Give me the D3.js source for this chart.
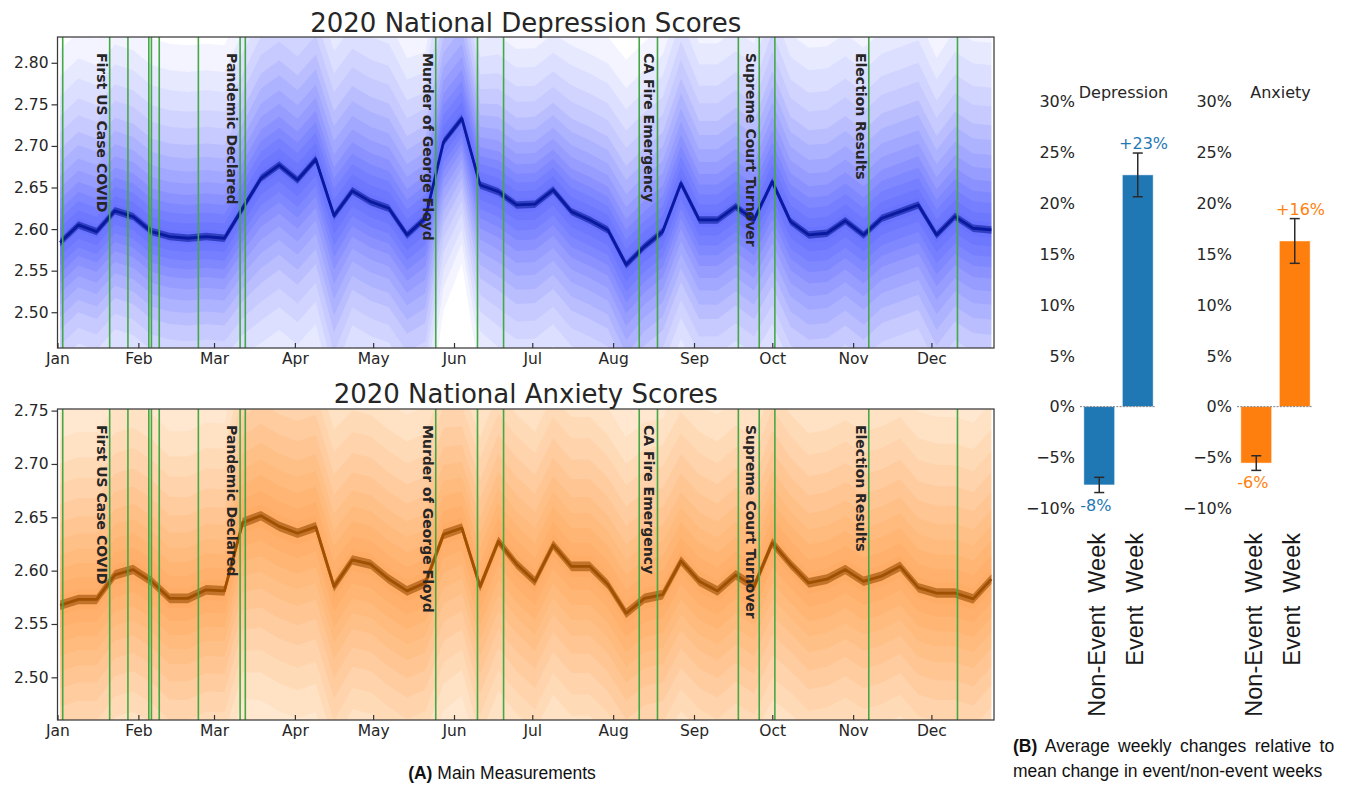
<!DOCTYPE html>
<html>
<head>
<meta charset="utf-8">
<script src="https://cdn.jsdelivr.net/npm/d3@7"></script>
<style>
  body { margin: 0; background: #fff; }
  svg { display: block; }
</style>
</head>
<body>
<svg id="fig" width="1346" height="785"></svg>
<script>
// ---------- data ----------
// weekly national means (52 weeks, starting Thursday 2 Jan 2020)
const firstWeek = "2020-01-02";
const weekCount = 52;

const depressionMean = [2.584, 2.605, 2.597, 2.622, 2.615, 2.597, 2.591, 2.589, 2.591, 2.589,
  2.625, 2.661, 2.677, 2.659, 2.684, 2.616, 2.646, 2.633, 2.625, 2.593,
  2.613, 2.705, 2.733, 2.653, 2.645, 2.629, 2.630, 2.647, 2.621, 2.611,
  2.599, 2.557, 2.579, 2.597, 2.655, 2.611, 2.611, 2.627, 2.611, 2.657,
  2.609, 2.593, 2.595, 2.610, 2.593, 2.613, 2.621, 2.629, 2.593, 2.615,
  2.601, 2.599];

const anxietyMean = [2.5675, 2.573, 2.573, 2.596, 2.601, 2.590, 2.574, 2.574, 2.582, 2.581,
  2.645, 2.6515, 2.6415, 2.635, 2.641, 2.585, 2.610, 2.606, 2.592, 2.581,
  2.5885, 2.634, 2.640, 2.585, 2.6275, 2.606, 2.590, 2.624, 2.604, 2.604,
  2.587, 2.560, 2.574, 2.5775, 2.609, 2.590, 2.581, 2.596, 2.585, 2.626,
  2.606, 2.5885, 2.592, 2.601, 2.590, 2.595, 2.604, 2.584, 2.579, 2.579,
  2.5735, 2.592];

// spread of the county-level lines below / above the mean, per week
const depressionSpreadLow = [.075, .075, .075, .075, .075, .075, .075, .075, .075, .075,
  .080, .090, .090, .090, .090, .100, .085, .085, .085, .085,
  .090, .070, .060, .080, .085, .085, .085, .085, .085, .085,
  .085, .090, .085, .085, .085, .085, .085, .085, .085, .090,
  .090, .090, .090, .090, .090, .090, .090, .090, .095, .090,
  .090, .090];
const depressionSpreadHigh = [.080, .080, .080, .080, .080, .080, .080, .080, .080, .080,
  .085, .090, .090, .090, .090, .090, .090, .090, .090, .085,
  .080, .090, .090, .070, .075, .075, .075, .075, .080, .080,
  .080, .085, .085, .085, .090, .085, .085, .085, .085, .095,
  .090, .090, .090, .090, .090, .090, .090, .090, .085, .090,
  .090, .090];
const anxietySpread = [.095, .095, .095, .095, .095, .095, .095, .095, .095, .095,
  .100, .105, .105, .105, .105, .105, .100, .100, .100, .100,
  .100, .100, .095, .100, .100, .100, .100, .100, .100, .100,
  .100, .100, .100, .100, .100, .100, .100, .100, .100, .105,
  .100, .100, .100, .100, .100, .100, .100, .100, .100, .100,
  .100, .100];

// half-width of the confidence band around each mean
const confidenceHalfWidth = 0.0045;

// event weeks
const eventDates = ["2020-01-03", "2020-01-21", "2020-01-28", "2020-02-05", "2020-02-06",
  "2020-02-09", "2020-02-24", "2020-03-11", "2020-03-13", "2020-05-25", "2020-06-10",
  "2020-06-20", "2020-08-11", "2020-08-18", "2020-09-18", "2020-09-26", "2020-10-02",
  "2020-11-07", "2020-12-11"];
const namedEventDates = ["2020-01-21", "2020-03-11", "2020-05-25", "2020-08-18", "2020-09-26", "2020-11-07"];
const namedEventLabels = ["First US Case COVID", "Pandemic Declared", "Murder of George Floyd",
  "CA Fire Emergency", "Supreme Court Turnover", "Election Results"];

const depressionTicks = [2.50, 2.55, 2.60, 2.65, 2.70, 2.75, 2.80];
const anxietyTicks = [2.50, 2.55, 2.60, 2.65, 2.70, 2.75];

// panel B: change relative to mean weekly change (%)
const weekTypes = ["Non-Event  Week", "Event  Week"];
const depressionChange = [-7.7, 22.8];
const depressionError = [0.75, 2.15];
const anxietyChange = [-5.55, 16.3];
const anxietyError = [0.72, 2.2];
const percentTicks = [-10, -5, 0, 5, 10, 15, 20, 25, 30];

// ---------- setup ----------
const parse = d3.timeParse("%Y-%m-%d");
const weeks = d3.range(weekCount).map(k => d3.timeDay.offset(parse(firstWeek), 7 * k));
const svg = d3.select("#fig");
const TXT = "#262626";
const SANS = "DejaVu Sans, sans-serif";
const HELV = "Liberation Sans, Arial, sans-serif";

const x = d3.scaleTime()
  .domain([parse("2020-01-01"), parse("2020-12-25")])
  .range([57.5, 994]);

const defs = svg.append("defs");

// nested translucent bands (multiple of the spread, opacity) used to shade the county lines
const hazeLayers = [
  [2.9, 0.05], [2.5, 0.05], [2.2, 0.05], [1.9, 0.06], [1.65, 0.06], [1.4, 0.07],
  [1.2, 0.07], [1.0, 0.08], [0.82, 0.08], [0.65, 0.09], [0.5, 0.09], [0.36, 0.09],
  [0.22, 0.08], [0.1, 0.06]
];

function drawPanel(cfg) {
  const { id, top, bottom, yDomain, ticks, mean, low, high, haze, line, band, title, titleY } = cfg;
  const y = d3.scaleLinear().domain(yDomain).range([bottom, top]);
  const [x0, x1] = x.range();

  defs.append("clipPath").attr("id", "clip-" + id)
    .append("rect").attr("x", x0).attr("y", top).attr("width", x1 - x0).attr("height", bottom - top);

  const g = svg.append("g");
  const plot = g.append("g").attr("clip-path", `url(#clip-${id})`);

  hazeLayers.forEach(([m, o]) => {
    const area = d3.area()
      .x((d, i) => x(weeks[i]))
      .y0((d, i) => y(d - low[i] * m))
      .y1((d, i) => y(d + high[i] * m));
    plot.append("path").datum(mean)
      .attr("d", area).attr("fill", haze).attr("fill-opacity", o);
  });

  // confidence band + mean line
  const ci = d3.area()
    .x((d, i) => x(weeks[i]))
    .y0(d => y(d - confidenceHalfWidth))
    .y1(d => y(d + confidenceHalfWidth));
  plot.append("path").datum(mean).attr("d", ci).attr("fill", band).attr("fill-opacity", 0.7);
  plot.append("path").datum(mean)
    .attr("d", d3.line().x((d, i) => x(weeks[i])).y(d => y(d)))
    .attr("fill", "none").attr("stroke", line).attr("stroke-width", 2.8)
    .attr("stroke-linejoin", "round");

  // event week markers
  plot.selectAll("line.event").data(eventDates).join("line")
    .attr("class", "event")
    .attr("x1", d => x(parse(d))).attr("x2", d => x(parse(d)))
    .attr("y1", top).attr("y2", bottom)
    .attr("stroke", "#44a944").attr("stroke-width", 1.6);

  // event names
  g.selectAll("text.ev").data(namedEventDates).join("text")
    .attr("class", "ev")
    .attr("transform", d => `translate(${x(parse(d)) - 13},${top + 16}) rotate(90)`)
    .attr("font-family", SANS).attr("font-weight", "bold").attr("font-size", 14)
    .attr("fill", TXT)
    .text((d, i) => namedEventLabels[i]);

  // frame
  g.append("rect").attr("x", x0).attr("y", top).attr("width", x1 - x0).attr("height", bottom - top)
    .attr("fill", "none").attr("stroke", "#3a3a3a").attr("stroke-width", 1.25);

  // axes
  const ya = g.append("g").attr("transform", `translate(${x0},0)`)
    .call(d3.axisLeft(y).tickValues(ticks).tickFormat(d3.format(".2f")).tickSize(6).tickPadding(3));
  const xa = g.append("g").attr("transform", `translate(0,${bottom})`)
    .call(d3.axisBottom(x).ticks(d3.timeMonth.every(1)).tickFormat(d3.timeFormat("%b"))
      .tickSize(-5).tickPadding(5));
  [ya, xa].forEach(a => {
    a.select(".domain").remove();
    a.attr("font-family", SANS).attr("font-size", 15.5);
    a.selectAll("line").attr("stroke", "#333").attr("stroke-width", 1.2);
    a.selectAll("text").attr("fill", TXT);
  });

  svg.append("text").attr("x", (x0 + x1) / 2).attr("y", titleY)
    .attr("text-anchor", "middle").attr("font-family", SANS).attr("font-size", 26)
    .attr("fill", TXT).text(title);
}

drawPanel({
  id: "dep", top: 37, bottom: 348, yDomain: [2.457, 2.831], ticks: depressionTicks,
  mean: depressionMean, low: depressionSpreadLow, high: depressionSpreadHigh,
  haze: "#1a2cff", line: "#0a1aa0", band: "#1a2aa8",
  title: "2020 National Depression Scores", titleY: 31.5
});
drawPanel({
  id: "anx", top: 409, bottom: 720, yDomain: [2.46, 2.7515], ticks: anxietyTicks,
  mean: anxietyMean, low: anxietySpread, high: anxietySpread,
  haze: "#ff8014", line: "#a05000", band: "#a85a10",
  title: "2020 National Anxiety Scores", titleY: 403
});

// ---------- panel B ----------
const yB = d3.scaleLinear().domain([-10, 30]).range([508.3, 101.7]);
const pctFmt = v => (v < 0 ? "\u2212" : "") + Math.abs(v) + "%";
const valFmt = v => (v > 0 ? "+" : "-") + Math.abs(Math.round(v)) + "%";

function drawBars(cfg) {
  const { range, values, errors, color, title } = cfg;
  const xb = d3.scaleBand().domain(weekTypes).range(range).paddingInner(0.2).paddingOuter(0.1);
  const g = svg.append("g");

  g.selectAll("text.tick").data(percentTicks).join("text")
    .attr("class", "tick")
    .attr("x", range[0] - 5).attr("y", d => yB(d)).attr("dy", "0.36em")
    .attr("text-anchor", "end").attr("font-family", SANS).attr("font-size", 16)
    .attr("fill", TXT).text(pctFmt);

  g.append("text").attr("x", (range[0] + range[1]) / 2 + 5).attr("y", 97.5)
    .attr("text-anchor", "middle").attr("font-family", SANS).attr("font-size", 16)
    .attr("fill", TXT).text(title);

  g.selectAll("rect.bar").data(values).join("rect")
    .attr("class", "bar")
    .attr("x", (d, i) => xb(weekTypes[i])).attr("width", xb.bandwidth())
    .attr("y", d => yB(Math.max(0, d))).attr("height", d => Math.abs(yB(d) - yB(0)))
    .attr("fill", color).attr("stroke", "#ffffff").attr("stroke-opacity", 0.6).attr("stroke-width", 0.8);

  g.append("line").attr("x1", range[0]).attr("x2", range[1] - 2)
    .attr("y1", yB(0)).attr("y2", yB(0))
    .attr("stroke", "#808080").attr("stroke-width", 1).attr("stroke-dasharray", "2,1.3");

  values.forEach((v, i) => {
    const cx = xb(weekTypes[i]) + xb.bandwidth() / 2;
    const lo = yB(v - errors[i]), hi = yB(v + errors[i]);
    const eb = g.append("g").attr("stroke", "#2b2b2b").attr("stroke-width", 1.5);
    eb.append("line").attr("x1", cx).attr("x2", cx).attr("y1", lo).attr("y2", hi);
    eb.append("line").attr("x1", cx - 5).attr("x2", cx + 5).attr("y1", lo).attr("y2", lo);
    eb.append("line").attr("x1", cx - 5).attr("x2", cx + 5).attr("y1", hi).attr("y2", hi);

    g.append("text")
      .attr("x", v > 0 ? cx + 5.8 : cx - 3.5)
      .attr("y", v > 0 ? hi - 4 : lo + 18)
      .attr("text-anchor", "middle").attr("font-family", SANS).attr("font-size", 16)
      .attr("fill", color).text(valFmt(v));

    g.append("text")
      .attr("transform", `translate(${cx + 5.5},533) rotate(-90)`)
      .attr("text-anchor", "end").attr("font-family", HELV).attr("font-size", 23.5)
      .attr("fill", "#1a1a1a").style("white-space", "pre")
      .text(weekTypes[i]);
  });
}

drawBars({ range: [1080, 1157], values: depressionChange, errors: depressionError, color: "#1f77b4", title: "Depression" });
drawBars({ range: [1237, 1314], values: anxietyChange, errors: anxietyError, color: "#ff7f0e", title: "Anxiety" });

// ---------- captions ----------
const capA = svg.append("text").attr("x", 502).attr("y", 778.5).attr("text-anchor", "middle")
  .attr("font-family", HELV).attr("font-size", 17.5).attr("fill", "#111");
capA.append("tspan").attr("font-weight", "bold").text("(A)");
capA.append("tspan").text(" Main Measurements");

const capB1 = svg.append("text").attr("x", 1013).attr("y", 752)
  .attr("font-family", HELV).attr("font-size", 17.5).attr("fill", "#111")
  .style("word-spacing", "3.6px");
capB1.append("tspan").attr("font-weight", "bold").text("(B)");
capB1.append("tspan").text(" Average weekly changes relative to");
svg.append("text").attr("x", 1013).attr("y", 777)
  .attr("font-family", HELV).attr("font-size", 17.5).attr("fill", "#111")
  .text("mean change in event/non-event weeks");
</script>
</body>
</html>
